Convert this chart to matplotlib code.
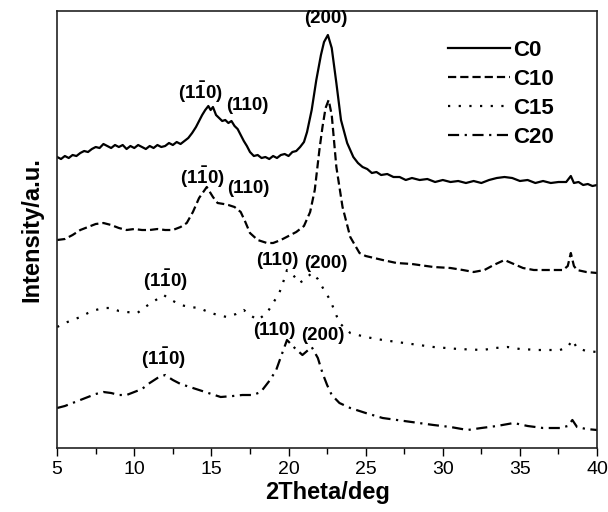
import matplotlib
matplotlib.use('Agg')
import matplotlib.pyplot as plt

plt.rcParams['font.family'] = ['Liberation Sans', 'DejaVu Sans']
plt.rcParams['mathtext.fontset'] = 'custom'
plt.rcParams['mathtext.rm'] = 'Liberation Sans'
plt.rcParams['mathtext.bf'] = 'Liberation Sans:bold'

# XRD patterns, intensities in arbitrary units (already stacked)
x_c0 = [5, 5.25, 5.5, 5.75, 6, 6.25, 6.5, 6.75, 7, 7.25, 7.5, 7.75, 8, 8.25, 8.5, 8.75, 9, 9.25,
        9.5, 9.75, 10, 10.25, 10.5, 10.75, 11, 11.25, 11.5, 11.75, 12, 12.25, 12.5, 12.75, 13, 13.25,
        13.5, 13.75, 14, 14.2, 14.4, 14.6, 14.8, 14.95, 15.1, 15.3, 15.5, 15.7, 15.9, 16.1, 16.3,
        16.5, 16.7, 16.9, 17.1, 17.3, 17.5, 17.75, 18, 18.25, 18.5, 18.75, 19, 19.25, 19.5, 19.75,
        20, 20.25, 20.5, 20.75, 21, 21.2, 21.5, 21.8, 22.1, 22.3, 22.55, 22.8, 23.1, 23.4, 23.8,
        24.2, 24.5, 24.8, 25.1, 25.4, 25.7, 26, 26.4, 26.8, 27.2, 27.6, 28, 28.5, 29, 29.5, 30,
        30.5, 31, 31.5, 32, 32.5, 33, 33.5, 34, 34.5, 35, 35.5, 36, 36.5, 37, 37.5, 38, 38.3, 38.5,
        38.8, 39.1, 39.4, 39.7, 40]
y_c0 = [291, 289, 292, 290, 293, 292, 295, 297, 296, 299, 301, 300, 304, 302, 300, 303, 301, 303,
        299, 302, 300, 303, 301, 299, 302, 300, 303, 301, 302, 305, 303, 306, 304, 307, 310, 315,
        321, 327, 333, 338, 342, 338, 341, 333, 330, 327, 328, 325, 327, 322, 319, 313, 307, 302,
        296, 292, 293, 290, 291, 289, 292, 290, 293, 294, 292, 296, 297, 301, 306, 316, 338, 368,
        393, 406, 413, 400, 365, 328, 305, 291, 285, 281, 279, 275, 276, 273, 274, 271, 271, 268,
        270, 268, 269, 266, 268, 266, 267, 265, 267, 265, 268, 270, 271, 270, 267, 268, 265, 267,
        265, 266, 266, 272, 265, 266, 263, 264, 262, 263]

x_c10 = [5, 5.5, 6, 6.5, 7, 7.5, 8, 8.5, 9, 9.5, 10, 10.5, 11, 11.5, 12, 12.5, 13, 13.4, 13.8, 14.2,
         14.7, 15.1, 15.4, 15.8, 16.1, 16.5, 16.9, 17.2, 17.5, 18, 18.6, 19, 19.5, 20, 20.5, 21, 21.4,
         21.7, 22, 22.2, 22.4, 22.6, 22.8, 23.1, 23.5, 24, 24.6, 25, 26.1, 27, 28, 29.4, 30.5, 31.3,
         32, 32.7, 33.3, 34, 34.6, 35.2, 35.9, 36.8, 37.8, 38.1, 38.3, 38.5, 38.7, 39.3, 40]
y_c10 = [208, 209, 213, 218, 221, 224, 225, 223, 220, 218, 219, 218, 218, 219, 218, 218, 221, 225,
         236, 250, 261, 251, 245, 244, 243, 241, 236, 226, 215, 208, 205, 205, 208, 212, 216, 222,
         236, 258, 298, 321, 340, 348, 333, 281, 241, 211, 195, 192, 188, 185, 184, 181, 180, 178,
         176, 178, 183, 188, 184, 180, 178, 178, 178, 182, 195, 182, 178, 176, 175]

x_c15 = [5, 5.5, 6, 6.5, 7, 7.5, 8, 8.5, 9, 9.5, 10.2, 10.7, 11.3, 11.9, 12.4, 13, 13.6, 14.2, 14.8,
         15.4, 16, 16.6, 17.1, 17.6, 18, 18.6, 19, 19.4, 19.7, 19.9, 20.3, 20.7, 21.1, 21.5, 21.9,
         22.3, 22.7, 23.3, 24, 25, 26.1, 27.5, 29.4, 31, 32.6, 33.4, 34.2, 35, 36.2, 37.6, 38.1, 38.4,
         38.7, 39.3, 40]
y_c15 = [121, 125, 128, 131, 135, 138, 140, 140, 137, 136, 135, 141, 147, 153, 148, 143, 141, 140,
         136, 133, 131, 134, 138, 132, 128, 135, 145, 155, 168, 178, 173, 165, 169, 175, 169, 158,
         148, 125, 115, 111, 108, 105, 101, 99, 98, 100, 101, 99, 98, 98, 101, 108, 100, 97, 96]

x_c20 = [5, 5.5, 6, 6.5, 7, 7.5, 8, 8.5, 9, 9.5, 10, 10.5, 11, 11.5, 12, 12.5, 13, 13.6, 14.2, 14.8,
         15.6, 16.4, 17, 17.7, 18.2, 18.8, 19.2, 19.5, 19.9, 20.4, 20.9, 21.2, 21.5, 21.9, 22.2, 22.5,
         22.8, 23.3, 24, 25, 26.1, 27.5, 29.4, 30.5, 31.6, 32.5, 33.5, 34.6, 35.5, 36.5, 37.6, 38.1,
         38.4, 38.7, 39.3, 40]
y_c20 = [40, 42, 45, 48, 51, 54, 56, 55, 53, 53, 56, 59, 65, 70, 73, 68, 64, 61, 58, 55, 51, 52, 53,
         53, 56, 68, 78, 91, 108, 100, 93, 97, 101, 90, 75, 63, 53, 45, 40, 35, 30, 27, 23, 21, 18,
         20, 22, 25, 22, 20, 20, 22, 28, 21, 19, 18]

series = ["C0", "C10", "C15", "C20"]
styles = ["-", (0, (3.7, 1.8)), (0, (1, 3.8)), (0, (5, 2.5, 1, 2.5))]

# peak labels: (text, x, y)
peaks = [
    ("(200)", 22.4, 430), (r"(1$\mathbf{\bar{1}}$0)", 14.3, 356), ("(110)", 17.3, 343),
    (r"(1$\mathbf{\bar{1}}$0)", 14.4, 271), ("(110)", 17.4, 260),
    (r"(1$\mathbf{\bar{1}}$0)", 12.0, 168), ("(110)", 19.3, 188), ("(200)", 22.4, 185),
    (r"(1$\mathbf{\bar{1}}$0)", 11.9, 90), ("(110)", 19.1, 118), ("(200)", 22.2, 113),
]

fig = plt.figure(figsize=(6.08, 5.12), dpi=100)
ax = fig.add_axes([0.094, 0.125, 0.888, 0.8535])

for xs, ys, name, ls in zip([x_c0, x_c10, x_c15, x_c20], [y_c0, y_c10, y_c15, y_c20], series, styles):
    ax.plot(xs, ys, color="black", linestyle=ls, linewidth=1.6, label=name)

for txt, px, py in peaks:
    ax.text(px, py, txt, ha="center", va="center", fontsize=13.5, fontweight="bold")

ax.set_xlim(5, 40)
ax.set_ylim(0, 437)
ax.set_xticks([5, 10, 15, 20, 25, 30, 35, 40])
ax.set_xticks([7.5, 12.5, 17.5, 22.5, 27.5, 32.5, 37.5], minor=True)
ax.set_yticks([])
ax.tick_params(axis="x", which="major", direction="out", length=6, width=1, labelsize=14)
ax.tick_params(axis="x", which="minor", direction="out", length=4, width=1)
for s in ax.spines.values():
    s.set_linewidth(1.2)
    s.set_color("#222222")

ax.set_xlabel("2Theta/deg", fontsize=17, fontweight="bold", labelpad=2)
ax.set_ylabel("Intensity/a.u.", fontsize=17, fontweight="bold", labelpad=10)

leg = ax.legend(loc="upper left", bbox_to_anchor=(0.707, 0.955), borderaxespad=0,
                frameon=False, fontsize=16, handlelength=2.8,
                handletextpad=0.15, labelspacing=0.36)
for t in leg.get_texts():
    t.set_fontweight("bold")

fig.savefig("out.png", dpi=100)
